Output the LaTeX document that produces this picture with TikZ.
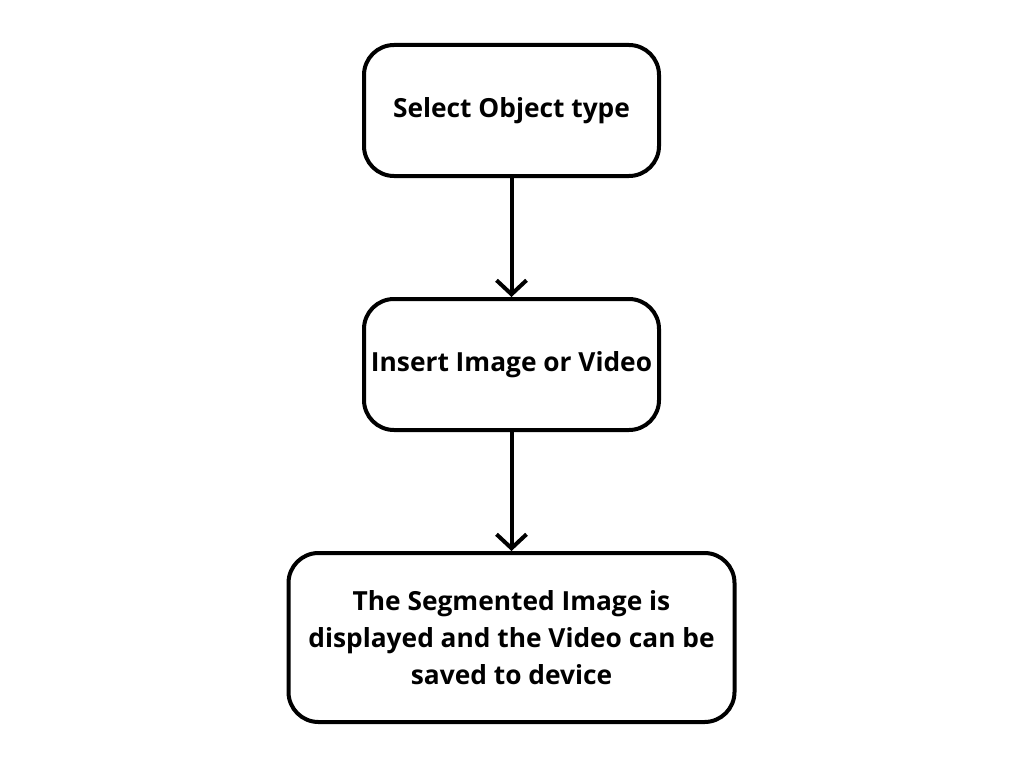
\documentclass[tikz,border=0pt]{standalone}
\usepackage{fontspec}
\setmainfont{Open Sans}
\usetikzlibrary{positioning, arrows.meta}

\tikzset{
    stepbox/.style={draw, line width=4pt, rounded corners=30pt, align=center,
        minimum width=295pt, minimum height=131pt, inner sep=0pt,
        font=\fontsize{26.3}{37}\selectfont\bfseries},
    flow/.style={line width=4pt, line cap=round,
        -{Straight Barb[length=14pt, width=30pt, line width=4pt]}}
}

\begin{document}
\begin{tikzpicture}[x=1pt, y=1pt, node distance=119pt]
        \useasboundingbox (0,0) rectangle (1024,-768);
        \node[stepbox] (select) at (511.5,-110.5) {Select Object type};
        \node[stepbox] (insert) [below=of select] {Insert Image or Video};
        \node[stepbox, minimum width=446pt, minimum height=169pt] (result) [below=of insert]
            {The Segmented Image is\\ displayed and the Video can be\\ saved to device};
        \draw[flow] (select) -- (insert);
        \draw[flow] (insert) -- (result);
    \end{tikzpicture}
\end{document}
